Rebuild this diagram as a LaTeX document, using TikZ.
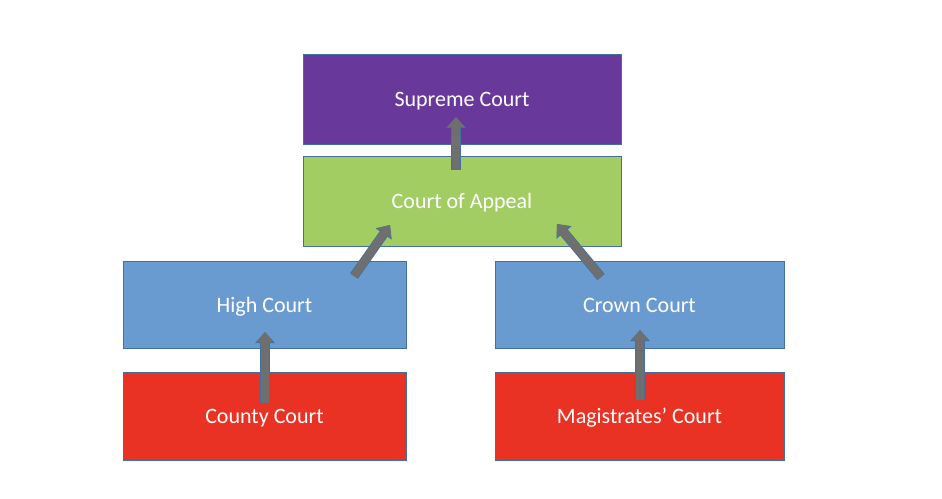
\documentclass[tikz,border=0pt]{standalone}
\usepackage{fontspec}
\setmainfont{Carlito}
\usetikzlibrary{arrows.meta}
\definecolor{supreme}{HTML}{68399A}
\definecolor{appeal}{HTML}{A2CD63}
\definecolor{middle}{HTML}{6A9BD0}
\definecolor{lower}{HTML}{E93224}
\definecolor{edge}{HTML}{41719C}
\definecolor{arrowgray}{HTML}{6F6F6F}
\tikzset{
  court/.style={draw=edge,line width=0.8pt,text=white,inner sep=0pt,
    text height=17pt,text depth=1.6pt,
    font=\fontsize{22}{26}\selectfont},
  blockarrow/.style={arrowgray,line width=8pt,
    preaction={draw=edge,line width=9.5pt,-{Triangle[length=11pt,width=19pt]}},
    -{Triangle[length=10pt,width=16.5pt]}}
}
\begin{document}
\begin{tikzpicture}[x=1pt,y=-1pt]
		\useasboundingbox[fill=white] (0,0) rectangle (942,498);
		% courts
		\node[court,fill=supreme,minimum width=318pt,minimum height=90pt] (sc) at (462,99) {Supreme Court};
		\node[court,fill=appeal,minimum width=318pt,minimum height=90pt] (ca) at (462,201) {Court of Appeal};
		\node[court,fill=middle,minimum width=283pt,minimum height=87pt] (hc) at (264.5,304.5) {High Court};
		\node[court,fill=middle,minimum width=289pt,minimum height=87pt] (cc) at (639.5,304.5) {Crown Court};
		\node[court,fill=lower,minimum width=283pt,minimum height=88pt] (cty) at (264.5,416) {County Court};
		\node[court,fill=lower,minimum width=289pt,minimum height=88pt] (mag) at (639.5,416) {Magistrates’ Court};
		% arrow ends
		\coordinate (caTail) at (456,170);
		\coordinate (scTip) at (456,117);
		\coordinate (hcTail) at (354,276);
		\coordinate (caTipL) at (390,225);
		\coordinate (ccTail) at (601,277);
		\coordinate (caTipR) at (557,224);
		\coordinate (ctyTail) at (265,403);
		\coordinate (hcTip) at (265,332);
		\coordinate (magTail) at (640,400);
		\coordinate (ccTip) at (640,330);
		% appeals
		\draw[blockarrow] (caTail) -- (scTip);
		\draw[blockarrow] (hcTail) -- (caTipL);
		\draw[blockarrow] (ccTail) -- (caTipR);
		\draw[blockarrow] (ctyTail) -- (hcTip);
		\draw[blockarrow] (magTail) -- (ccTip);
\end{tikzpicture}
\end{document}
